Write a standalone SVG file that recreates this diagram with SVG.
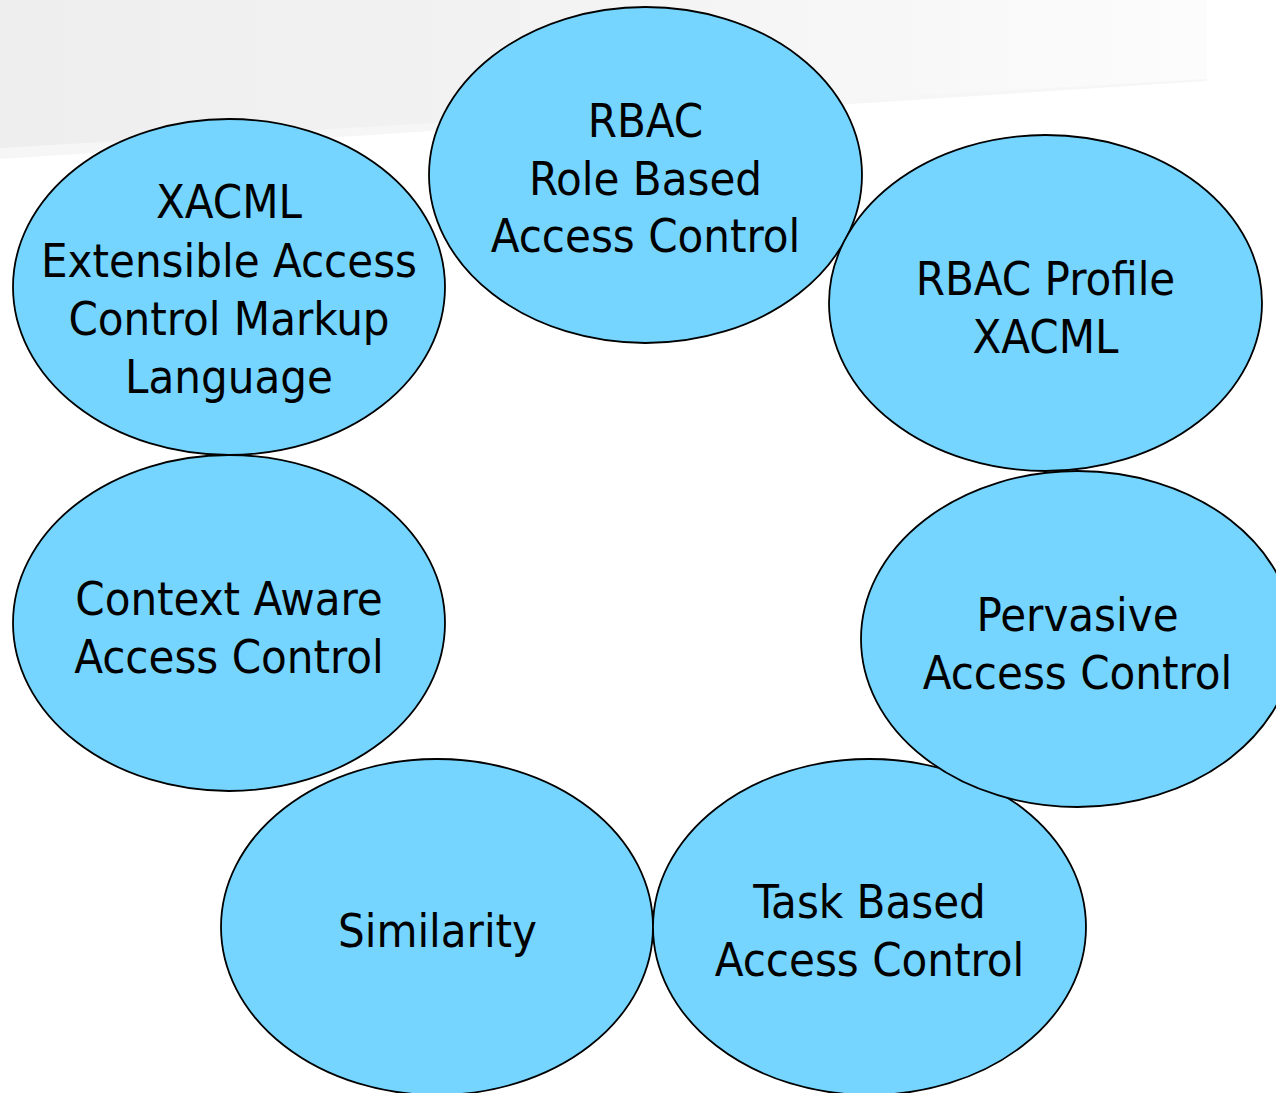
<svg xmlns="http://www.w3.org/2000/svg" width="1276" height="1093" viewBox="0 0 1276 1093">
<defs>
<linearGradient id="bg" x1="0" y1="0" x2="1" y2="0">
<stop offset="0" stop-color="#eeeeee"/>
<stop offset="0.5" stop-color="#f3f3f3"/>
<stop offset="1" stop-color="#fcfcfc"/>
</linearGradient>
</defs>
<style>
.n{fill:#75D5FF;stroke:#000;stroke-width:1.8}
.t{font-family:"DejaVu Sans Condensed","DejaVu Sans",sans-serif;font-size:46.8px;fill:#000;text-anchor:middle}
</style>
<rect x="0" y="0" width="1276" height="1093" fill="#ffffff"/>
<polygon points="0,0 1207,0 1207,81 0,159" fill="#f6f6f6"/>
<polygon points="0,0 1207,0 1207,79 0,148" fill="url(#bg)"/>
<g id="connectors"></g>
<g id="node-xacml">
<ellipse class="n" cx="229" cy="287" rx="216" ry="168"/>
<text class="t" x="229" y="218">XACML</text>
<text class="t" x="229" y="277">Extensible Access</text>
<text class="t" x="229" y="335">Control Markup</text>
<text class="t" x="229" y="393">Language</text>
</g>
<g id="node-rbac">
<ellipse class="n" cx="645.5" cy="175" rx="216.5" ry="168"/>
<text class="t" x="645.5" y="137">RBAC</text>
<text class="t" x="645.5" y="195">Role Based</text>
<text class="t" x="645.5" y="252">Access Control</text>
</g>
<g id="node-rbac-profile">
<ellipse class="n" cx="1045.5" cy="303" rx="216.5" ry="168"/>
<text class="t" x="1045.5" y="295">RBAC Profile</text>
<text class="t" x="1045.5" y="353">XACML</text>
</g>
<g id="node-context">
<ellipse class="n" cx="229" cy="623" rx="216" ry="168"/>
<text class="t" x="229" y="615">Context Aware</text>
<text class="t" x="229" y="673">Access Control</text>
</g>
<g id="node-similarity">
<ellipse class="n" cx="437" cy="927" rx="216" ry="168"/>
<text class="t" x="437.5" y="947">Similarity</text>
</g>
<g id="node-task">
<ellipse class="n" cx="869.5" cy="927" rx="216.5" ry="168"/>
<text class="t" x="869.5" y="918">Task Based</text>
<text class="t" x="869.5" y="976">Access Control</text>
</g>
<g id="node-pervasive">
<ellipse class="n" cx="1077.5" cy="639" rx="216.5" ry="168"/>
<text class="t" x="1077.5" y="631">Pervasive</text>
<text class="t" x="1077.5" y="689">Access Control</text>
</g>
</svg>
